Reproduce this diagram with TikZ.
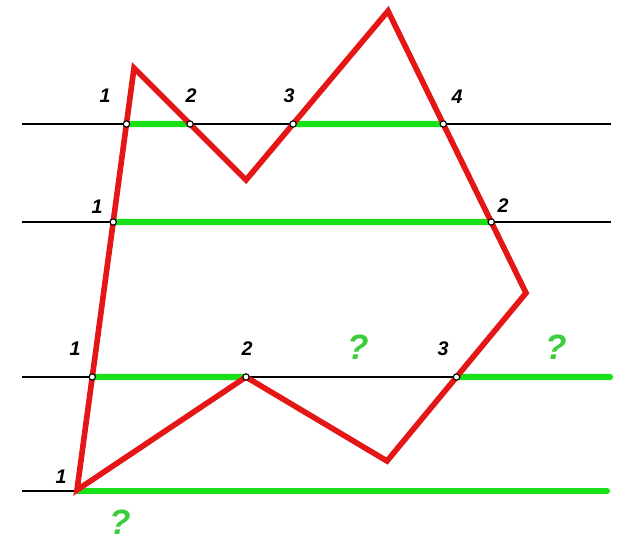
\documentclass[tikz,border=0pt]{standalone}
\usepackage{fontspec}
\setmainfont{Liberation Sans}
\usetikzlibrary{calc}
\definecolor{cutgreen}{RGB}{25,225,25}
\definecolor{askgreen}{RGB}{60,205,60}
\definecolor{contourred}{RGB}{228,22,22}

\begin{document}
\begin{tikzpicture}[x=0.025cm,y=-0.025cm,
  guide/.style={line width=1.4pt},
  cut/.style={draw=cutgreen,line width=4.4pt,line cap=round},
  contour/.style={draw=contourred,line width=4pt,line join=miter},
  pt/.style={circle,draw,fill=white,inner sep=0pt,minimum size=4.5pt,line width=0.8pt},
  num/.style={font=\fontsize{14}{14}\selectfont\bfseries\itshape},
  ask/.style={font=\fontsize{25}{25}\selectfont\bfseries\itshape,text=askgreen}]
  \useasboundingbox (0,0) rectangle (617,541);
  % polygon vertices
  \coordinate (A) at (77,490);
  \coordinate (B) at (134,68);
  \coordinate (C) at (246,180);
  \coordinate (D) at (388,11);
  \coordinate (E) at (526,293);
  \coordinate (F) at (387,461);
  \coordinate (G) at (246,377);
  % horizontal lines
  \coordinate (L1w) at (22,124);  \coordinate (L1e) at (611,124);
  \coordinate (L2w) at (22,222);  \coordinate (L2e) at (611,222);
  \coordinate (L3w) at (22,377);  \coordinate (L3e) at (610,377);
  \coordinate (L4w) at (22,491);  \coordinate (L4e) at (607,491);
  \coordinate (A4) at (77,491);
  % crossing points
  \coordinate (p11) at (intersection of A--B and L1w--L1e);
  \coordinate (p12) at (intersection of B--C and L1w--L1e);
  \coordinate (p13) at (intersection of C--D and L1w--L1e);
  \coordinate (p14) at (intersection of D--E and L1w--L1e);
  \coordinate (p21) at (intersection of A--B and L2w--L2e);
  \coordinate (p22) at (intersection of D--E and L2w--L2e);
  \coordinate (p31) at (intersection of A--B and L3w--L3e);
  \coordinate (p33) at (intersection of E--F and L3w--L3e);

  \draw[guide] (L1w) -- (L1e);
  \draw[guide] (L2w) -- (L2e);
  \draw[guide] (L3w) -- (L3e);
  \draw[guide] (L4w) -- (A4);

  \draw[cut] (p11) -- (p12);
  \draw[cut] (p13) -- (p14);
  \draw[cut] (p21) -- (p22);
  \draw[cut] (p31) -- (G);
  \draw[cut] (p33) -- (L3e);
  \draw[cut] (A4) -- (L4e);

  \draw[contour] (A) -- (B) -- (C) -- (D) -- (E) -- (F) -- (G) -- cycle;

  \foreach \p in {p11,p12,p13,p14,p21,p22,p31,G,p33}
    \node[pt] (dot-\p) at (\p) {};

  % labels
  \node[num] (n11) at (105,96) {1};
  \node[num] (n12) at (191,96) {2};
  \node[num] (n13) at (289,96) {3};
  \node[num] (n14) at (457,97) {4};
  \node[num] (n21) at (97,207) {1};
  \node[num] (n22) at (503,206) {2};
  \node[num] (n31) at (75,349) {1};
  \node[num] (n32) at (247,349) {2};
  \node[num] (n33) at (443,349) {3};
  \node[num] (n41) at (61,477) {1};
  \node[ask] (q1) at (358,347) {?};
  \node[ask] (q2) at (556,347) {?};
  \node[ask] (q3) at (120,522) {?};
\end{tikzpicture}
\end{document}
